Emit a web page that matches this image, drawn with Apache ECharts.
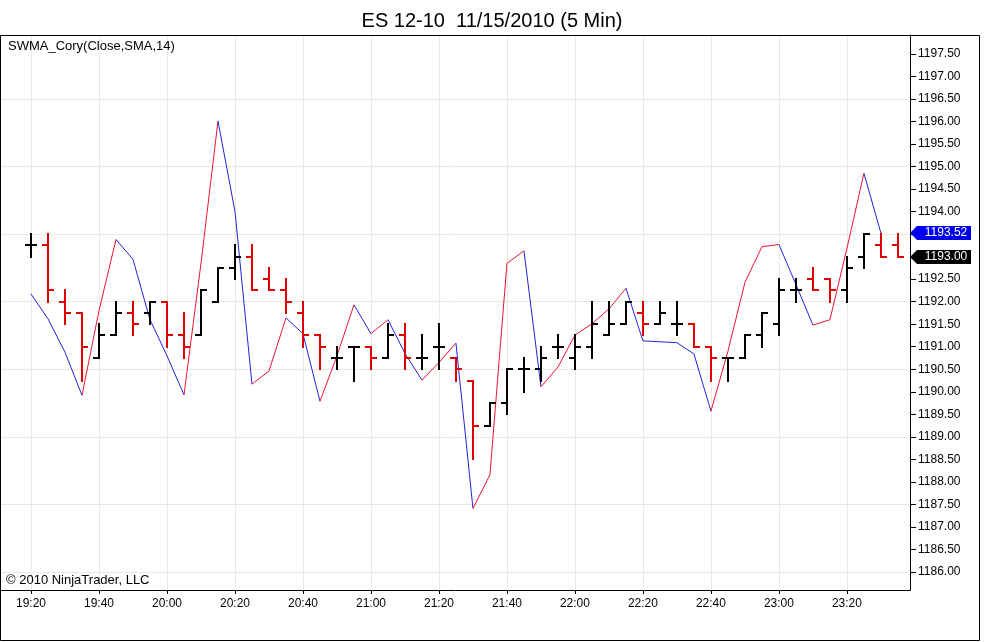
<!DOCTYPE html>
<html>
<head>
<meta charset="utf-8">
<title>ES 12-10 11/15/2010 (5 Min)</title>
<script src="https://cdn.jsdelivr.net/npm/echarts@6.0.0/dist/echarts.min.js"></script>
<style>
html, body { margin: 0; padding: 0; background: #fff; }
#chart { width: 984px; height: 642px; }
</style>
</head>
<body>
<div id="chart"></div>
<script>
// 5 minute bars, 19:20 .. 23:35
var times = ['19:20','19:25','19:30','19:35','19:40','19:45','19:50','19:55',
	'20:00','20:05','20:10','20:15','20:20','20:25','20:30','20:35',
	'20:40','20:45','20:50','20:55','21:00','21:05','21:10','21:15',
	'21:20','21:25','21:30','21:35','21:40','21:45','21:50','21:55',
	'22:00','22:05','22:10','22:15','22:20','22:25','22:30','22:35',
	'22:40','22:45','22:50','22:55','23:00','23:05','23:10','23:15',
	'23:20','23:25','23:30','23:35'];

var opens = [1193.25,1193.25,1192.00,1191.75,1190.75,1191.25,1191.75,1191.75,
	1192.00,1191.25,1191.25,1192.00,1192.75,1193.00,1192.50,1192.25,
	1191.75,1191.25,1190.75,1191.00,1191.00,1190.75,1191.25,1190.75,
	1191.00,1190.75,1190.25,1189.25,1189.75,1190.50,1190.50,1191.00,
	1190.75,1191.00,1191.25,1191.50,1191.75,1191.50,1191.50,1191.50,
	1191.00,1190.75,1190.75,1191.25,1191.50,1192.25,1192.50,1192.50,
	1192.25,1193.00,1193.25,1193.25];
var highs = [1193.50,1193.50,1192.25,1191.75,1191.50,1192.00,1192.00,1192.00,
	1192.00,1191.75,1192.25,1192.75,1193.25,1193.25,1192.75,1192.50,
	1192.00,1191.25,1191.00,1191.00,1191.00,1191.50,1191.50,1191.25,
	1191.50,1190.75,1190.25,1189.75,1190.50,1190.75,1191.00,1191.25,
	1191.25,1192.00,1192.00,1192.00,1192.00,1192.00,1192.00,1191.50,
	1191.00,1190.75,1191.25,1191.75,1192.50,1192.50,1192.75,1192.50,
	1193.00,1193.50,1193.50,1193.50];
var lows = [1193.00,1192.00,1191.50,1190.25,1190.75,1191.25,1191.25,1191.50,
	1191.00,1190.75,1191.25,1192.00,1192.50,1192.25,1192.25,1191.75,
	1191.00,1190.50,1190.50,1190.25,1190.50,1190.75,1190.50,1190.50,
	1190.50,1190.25,1188.50,1189.25,1189.50,1190.00,1190.25,1190.75,
	1190.50,1190.75,1191.25,1191.50,1191.25,1191.50,1191.25,1191.00,
	1190.25,1190.25,1190.75,1191.00,1191.25,1192.00,1192.25,1192.00,
	1192.00,1192.75,1193.00,1193.00];
var closes = [1193.25,1192.25,1191.75,1191.00,1191.25,1191.75,1191.50,1192.00,
	1191.25,1191.00,1192.25,1192.75,1193.00,1192.25,1192.25,1192.00,
	1191.25,1191.00,1190.75,1191.00,1190.75,1191.25,1190.75,1190.75,
	1191.00,1190.50,1189.25,1189.75,1190.50,1190.50,1190.75,1191.00,
	1191.00,1191.50,1191.50,1192.00,1191.50,1191.75,1191.50,1191.00,
	1190.75,1190.75,1191.25,1191.75,1192.25,1192.25,1192.25,1192.25,
	1192.75,1193.50,1193.00,1193.00];

// SWMA_Cory(Close,SMA,14), no value on the last bar
var swma = [1192.17,1191.62,1190.88,1189.92,1191.80,1193.38,1192.94,1191.60,
	1190.80,1189.93,1192.85,1196.01,1194.00,1190.17,1190.46,1191.64,
	1191.29,1189.79,1190.80,1191.93,1191.29,1191.60,1190.85,1190.26,
	1190.65,1191.08,1187.41,1188.16,1192.85,1193.13,1190.11,1190.55,
	1191.26,1191.51,1191.84,1192.30,1191.13,1191.11,1191.09,1190.84,
	1189.57,1190.90,1192.43,1193.22,1193.27,1192.38,1191.48,1191.60,
	1193.18,1194.85,1193.52,null];

var timeTicks = [0,4,8,12,16,20,24,28,32,36,40,44,48];
var priceTicks = [1186.0,1186.5,1187.0,1187.5,1188.0,1188.5,1189.0,1189.5,
	1190.0,1190.5,1191.0,1191.5,1192.0,1192.5,1193.0,1193.5,
	1194.0,1194.5,1195.0,1195.5,1196.0,1196.5,1197.0,1197.5];
var gridPrices = [1186.0,1187.5,1189.0,1190.5,1192.0,1193.5,1195.0,1196.5];

var downColor = '#e00000';    // close < open
var barColor = '#000000';
var lineUp = '#ee1133';
var lineDown = '#2222dd';
var tagColors = ['#0000ee', '#000000'];
var fontFam = '"Liberation Sans", Arial, sans-serif';

var bars = [];
for (var i = 0; i < times.length; i++) {
	bars.push([i, opens[i], highs[i], lows[i], closes[i]]);
}
var segs = [];
var lastIdx = 0;
for (var j = 1; j < swma.length; j++) {
	if (swma[j] != null && swma[j - 1] != null) {
		segs.push([j, swma[j - 1], swma[j]]);
		lastIdx = j;
	}
}
// last indicator value and last close, shown as tags on the price axis
var tagValues = [swma[lastIdx], closes[closes.length - 1]];

var chart = echarts.init(document.getElementById('chart'));

function renderBar(params, api) {
	var x = api.value(0);
	var o = api.coord([x, api.value(1)]);
	var h = api.coord([x, api.value(2)]);
	var l = api.coord([x, api.value(3)]);
	var c = api.coord([x, api.value(4)]);
	var col = api.value(4) < api.value(1) ? downColor : barColor;
	var px = Math.round(o[0]);
	var st = { stroke: col, lineWidth: 2 };
	return {
		type: 'group',
		children: [
			{ type: 'line', shape: { x1: px, y1: Math.round(h[1]) - 1, x2: px, y2: Math.round(l[1]) + 1 }, style: st },
			{ type: 'line', shape: { x1: px - 6, y1: Math.round(o[1]), x2: px, y2: Math.round(o[1]) }, style: st },
			{ type: 'line', shape: { x1: px, y1: Math.round(c[1]), x2: px + 6, y2: Math.round(c[1]) }, style: st }
		]
	};
}

function renderSeg(params, api) {
	var i = api.value(0);
	var a = api.coord([i - 1, api.value(1)]);
	var b = api.coord([i, api.value(2)]);
	return {
		type: 'line',
		shape: { x1: a[0], y1: a[1], x2: b[0], y2: b[1] },
		style: { stroke: api.value(2) > api.value(1) ? lineUp : lineDown, lineWidth: 1 }
	};
}

function renderTag(params, api) {
	var v = api.value(1);
	var y = Math.round(api.coord([0, v])[1]);
	var x0 = params.coordSys.x + params.coordSys.width;
	return {
		type: 'group',
		children: [
			{ type: 'polygon', shape: { points: [[x0, y], [x0 + 7, y - 7], [x0 + 61, y - 7], [x0 + 61, y + 7], [x0 + 7, y + 7]] },
				style: { fill: tagColors[params.dataIndex] } },
			{ type: 'text', x: x0 + 36, y: y, style: { text: v.toFixed(2), fill: '#fff', font: '12px ' + fontFam, align: 'center', verticalAlign: 'middle' } }
		]
	};
}

var tagData = tagValues.map(function(v) { return [0, v]; });

var option = {
	backgroundColor: '#fff',
	animation: false,
	title: {
		text: 'ES 12-10  11/15/2010 (5 Min)',
		left: 'center',
		top: 6,
		textStyle: { fontSize: 20, fontWeight: 'normal', color: '#000', fontFamily: fontFam }
	},
	grid: { left: 1, right: 74, top: 35, bottom: 52, outerBoundsMode: 'none', containLabel: false },
	xAxis: {
		type: 'value',
		min: -1.765,
		max: 51.71,
		axisLine: { show: true, onZero: false, lineStyle: { color: '#000', width: 1 } },
		axisTick: { show: true, customValues: timeTicks, length: 4, lineStyle: { color: '#000' } },
		axisLabel: {
			customValues: timeTicks, margin: 8, color: '#000', fontSize: 12, fontFamily: fontFam,
			formatter: function(v) { return times[v]; }
		},
		splitLine: { show: true, lineStyle: { color: '#ece8e0', width: 1 } }
	},
	yAxis: [{
		type: 'value',
		position: 'right',
		min: 1185.6,
		max: 1197.92,
		axisLine: { show: true, onZero: false, lineStyle: { color: '#000', width: 1 } },
		axisTick: { show: true, customValues: priceTicks, length: 6, lineStyle: { color: '#000' } },
		axisLabel: {
			customValues: priceTicks, margin: 8, color: '#000', fontSize: 12, fontFamily: fontFam,
			hideOverlap: false,
			formatter: function(v) { return v.toFixed(2); }
		},
		splitLine: { show: false }
	}, {
		type: 'value',
		position: 'right',
		min: 1185.6,
		max: 1197.92,
		axisLine: { show: false, onZero: false },
		axisTick: { show: false, customValues: gridPrices },
		axisLabel: { show: false, customValues: gridPrices },
		splitLine: { show: true, lineStyle: { color: '#ece8e0', width: 1 } }
	}],
	series: [{
		name: 'SWMA_Cory',
		type: 'custom',
		renderItem: renderSeg,
		encode: { x: 0, y: [1, 2] },
		data: segs,
		z: 2
	}, {
		name: 'ES 12-10',
		type: 'custom',
		renderItem: renderBar,
		encode: { x: 0, y: [1, 2, 3, 4] },
		data: bars,
		z: 3
	}, {
		name: 'tags',
		type: 'custom',
		renderItem: renderTag,
		encode: { x: 0, y: 1 },
		data: tagData,
		clip: false,
		z: 10
	}],
	graphic: [
		{ type: 'rect', shape: { x: 0.5, y: 35.5, width: 979, height: 605 }, style: { fill: null, stroke: '#000', lineWidth: 1 }, z: 100 },
		{ type: 'text', left: 8, top: 40, style: { text: 'SWMA_Cory(Close,SMA,14)', fill: '#000', font: '13px ' + fontFam }, z: 100 },
		{ type: 'text', left: 6, top: 574, style: { text: '\u00a9 2010 NinjaTrader, LLC', fill: '#000', font: '13px ' + fontFam }, z: 100 }
	]
};

chart.setOption(option);
</script>
</body>
</html>
